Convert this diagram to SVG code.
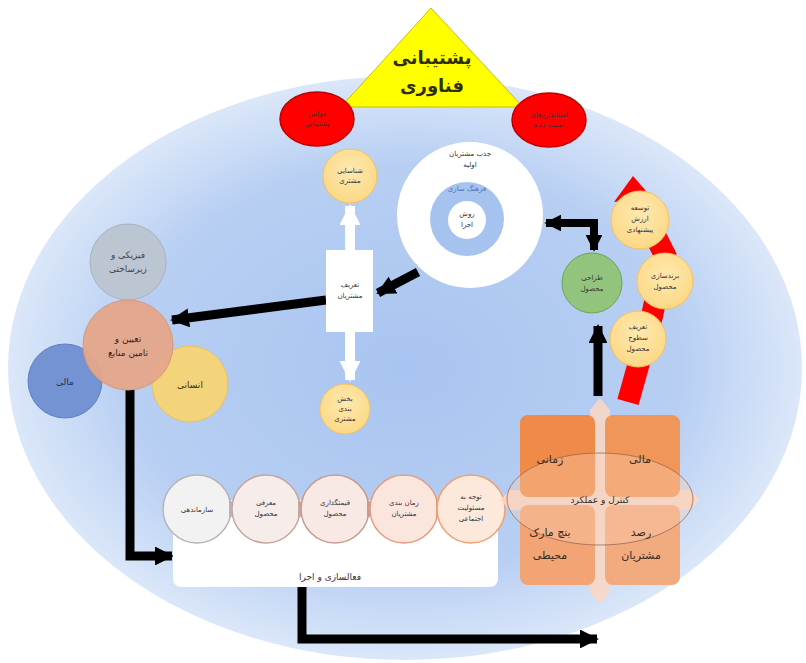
<svg xmlns="http://www.w3.org/2000/svg" width="806" height="663" viewBox="0 0 806 663">
<defs>
<radialGradient id="bg" cx="50%" cy="50%" r="50%">
<stop offset="0%" stop-color="#a8c4f0"/>
<stop offset="70%" stop-color="#b8cff3"/>
<stop offset="100%" stop-color="#dbe7f9"/>
</radialGradient>
<radialGradient id="yel" cx="50%" cy="40%" r="60%">
<stop offset="0%" stop-color="#fee9b0"/>
<stop offset="100%" stop-color="#fcd885"/>
</radialGradient>
<marker id="ah" viewBox="0 0 10 10" refX="9" refY="5" markerWidth="2.1" markerHeight="2.1" orient="auto-start-reverse">
<path d="M0,0 L10,5 L0,10 Z" fill="#000"/>
</marker>
<marker id="wh" viewBox="0 0 10 10" refX="9" refY="5" markerWidth="2.1" markerHeight="2.1" orient="auto">
<path d="M0,0 L10,5 L0,10 Z" fill="#fff"/>
</marker>
<style>
text{font-family:"DejaVu Sans",sans-serif;text-anchor:middle;fill:#333}
.s{font-size:7px}
.m{font-size:9px}
.l{font-size:11px;fill:#3a2a20}
.yc{fill:url(#yel);stroke:#f3c25e;stroke-width:1}
.blk{fill:none;stroke:#000;stroke-width:9;marker-end:url(#ah)}
.red{fill:#ff0000;stroke:#c00000;stroke-width:1.5}
.chev{stroke-width:1.5}
</style>
</defs>
<rect width="806" height="663" fill="#fff"/>
<ellipse cx="405" cy="368" rx="397" ry="292" fill="url(#bg)"/>

<g id="tech-support">
<polygon points="431,8 341,107 523,107" fill="#ffff00" stroke="#c8c000" stroke-width="1"/>
<text x="432" y="64" style="font-size:18px;font-weight:bold;fill:#2e2e10">پشتیبانی</text>
<text x="432" y="92" style="font-size:18px;font-weight:bold;fill:#2e2e10">فناوری</text>
</g>
<g id="red-left">
<ellipse cx="317" cy="119" rx="37" ry="27" class="red"/>
<text x="317" y="116" class="s">قوانین</text>
<text x="317" y="126" class="s">پشتیبانی</text>
</g>
<g id="red-right">
<ellipse cx="549" cy="120" rx="37" ry="27" class="red"/>
<text x="549" y="117" class="s">استانداردهای</text>
<text x="549" y="127" class="s">امنیت داده</text>
</g>

<g id="connectors">
<line x1="350" y1="250" x2="350" y2="206" stroke="#fff" stroke-width="10" marker-end="url(#wh)"/>
<line x1="350" y1="332" x2="350" y2="380" stroke="#fff" stroke-width="10" marker-end="url(#wh)"/>
<line x1="418" y1="272" x2="378" y2="293" class="blk"/>
<line x1="326" y1="300" x2="172" y2="320" class="blk"/>
<path d="M130,390 V556 H172" class="blk"/>
<path d="M302,586 V639 H597" class="blk"/>
<path d="M598,396 V326" class="blk"/>
<path d="M546,223 H594 V250" class="blk" style="stroke-width:8" marker-start="url(#ah)"/>
</g>

<g id="identify">
<circle cx="350" cy="176" r="27" class="yc"/>
<text x="350" y="173" class="s">شناسایی</text>
<text x="350" y="183" class="s">مشتری</text>
</g>
<g id="define-customers">
<rect x="326" y="250" width="47" height="82" fill="#fff"/>
<text x="350" y="287" class="s">تعریف</text>
<text x="350" y="298" class="s">مشتریان</text>
</g>
<g id="segment">
<circle cx="345" cy="409" r="25" class="yc"/>
<text x="345" y="401" class="s">بخش</text>
<text x="345" y="411" class="s">بندی</text>
<text x="345" y="421" class="s">مشتری</text>
</g>

<g id="attract">
<circle cx="470" cy="215" r="73" fill="#fff"/>
<circle cx="467" cy="219" r="37" fill="#a6c3ef"/>
<circle cx="467" cy="220" r="19" fill="#fff"/>
<text x="470" y="156" class="s">جذب مشتریان</text>
<text x="470" y="167" class="s">اولیه</text>
<text x="467" y="191" class="s" style="fill:#4f6fb0">فرهنگ سازی</text>
<text x="467" y="216" class="s">روش</text>
<text x="467" y="227" class="s">اجرا</text>
</g>

<g id="design">
<circle cx="592" cy="283" r="30" fill="#93c47d" stroke="#6aa84f" stroke-width="1"/>
<text x="592" y="280" class="s">طراحی</text>
<text x="592" y="291" class="s">محصول</text>
</g>
<g id="red-ribbon">
<polyline points="633,192 665,255 652,316 628,402" fill="none" stroke="#ff0000" stroke-width="22" stroke-linejoin="miter"/>
<polygon points="614,202 633,176 652,198" fill="#ff0000"/>
</g>
<g id="value">
<circle cx="640" cy="220" r="29" class="yc"/>
<text x="640" y="210" class="s">توسعه</text>
<text x="640" y="221" class="s">ارزش</text>
<text x="640" y="232" class="s">پیشنهادی</text>
</g>
<g id="branding">
<circle cx="665" cy="281" r="28" class="yc"/>
<text x="665" y="278" class="s">برندسازی</text>
<text x="665" y="289" class="s">محصول</text>
</g>
<g id="levels">
<circle cx="638" cy="339" r="28" class="yc"/>
<text x="638" y="329" class="s">تعریف</text>
<text x="638" y="340" class="s">سطوح</text>
<text x="638" y="351" class="s">محصول</text>
</g>

<g id="physical">
<circle cx="128" cy="262" r="38" fill="#bcc5d2" stroke="#aab3c0" stroke-width="1"/>
<text x="128" y="258" class="m" style="fill:#444">فیزیکی و</text>
<text x="128" y="272" class="m" style="fill:#444">زیرساختی</text>
</g>
<g id="financial">
<circle cx="65" cy="381" r="37" fill="#7393d2" stroke="#5f80c2" stroke-width="1"/>
<text x="65" y="385" class="m" style="fill:#1e2d55">مالی</text>
</g>
<g id="human">
<circle cx="190" cy="384" r="38" fill="#f4d47a" stroke="#eac060" stroke-width="1"/>
<text x="190" y="388" class="m" style="fill:#3a3010">انسانی</text>
</g>
<g id="resources">
<circle cx="128" cy="345" r="45" fill="#e5a78a" fill-opacity="0.95" stroke="#d89878" stroke-width="1"/>
<text x="128" y="342" class="m" style="fill:#3a2010">تعیین و</text>
<text x="128" y="356" class="m" style="fill:#3a2010">تامین منابع</text>
</g>

<g id="activation">
<rect x="173" y="500" width="325" height="87" rx="8" fill="#fff"/>
<text x="330" y="580" class="m">فعالسازی و اجرا</text>
<circle cx="197" cy="509" r="34" fill="#f2f2f2" stroke="#b5b5b5" class="chev"/>
<polygon points="229,499 240,509 229,519" fill="#b5b5b5"/>
<circle cx="266" cy="509" r="34" fill="#f6ece9" stroke="#c4a6a0" class="chev"/>
<polygon points="298,499 309,509 298,519" fill="#c4a6a0"/>
<circle cx="335" cy="509" r="34" fill="#f8e9e5" stroke="#c99a8e" class="chev"/>
<polygon points="367,499 378,509 367,519" fill="#c99a8e"/>
<circle cx="404" cy="509" r="34" fill="#fbe6de" stroke="#e39c82" class="chev"/>
<polygon points="436,499 447,509 436,519" fill="#e39c82"/>
<circle cx="471" cy="509" r="34" fill="#fde9dc" stroke="#f0a070" class="chev"/>
<text x="197" y="512" class="s">سازماندهی</text>
<text x="266" y="505" class="s">معرفی</text>
<text x="266" y="516" class="s">محصول</text>
<text x="335" y="505" class="s">قیمتگذاری</text>
<text x="335" y="516" class="s">محصول</text>
<text x="404" y="505" class="s">زمان بندی</text>
<text x="404" y="516" class="s">مشتریان</text>
<text x="471" y="499" class="s">توجه به</text>
<text x="471" y="510" class="s">مسئولیت</text>
<text x="471" y="521" class="s">اجتماعی</text>
</g>

<g id="control">
<polygon points="600,398 610,410 610,490 690,490 700,500 690,510 610,510 610,592 600,604 590,592 590,510 510,510 500,500 510,490 590,490 590,410" fill="#fbd7c3" opacity="0.85"/>
<rect x="520" y="415" width="75" height="82" rx="8" fill="#ef8a48"/>
<rect x="605" y="415" width="75" height="82" rx="8" fill="#f09658"/>
<rect x="520" y="505" width="75" height="80" rx="8" fill="#f2a474"/>
<rect x="605" y="505" width="75" height="80" rx="8" fill="#f2ab7e"/>
<ellipse cx="600" cy="499" rx="93" ry="46" fill="#fbd2b8" fill-opacity="0.35" stroke="#9a6a50" stroke-width="0.8"/>
<text x="550" y="463" class="l">زمانی</text>
<text x="640" y="463" class="l">مالی</text>
<text x="600" y="503" class="m" style="fill:#3a2a20">کنترل و عملکرد</text>
<text x="550" y="536" class="l">بنچ مارک</text>
<text x="550" y="559" class="l">محیطی</text>
<text x="641" y="536" class="l">رصد</text>
<text x="641" y="559" class="l">مشتریان</text>
</g>
</svg>
